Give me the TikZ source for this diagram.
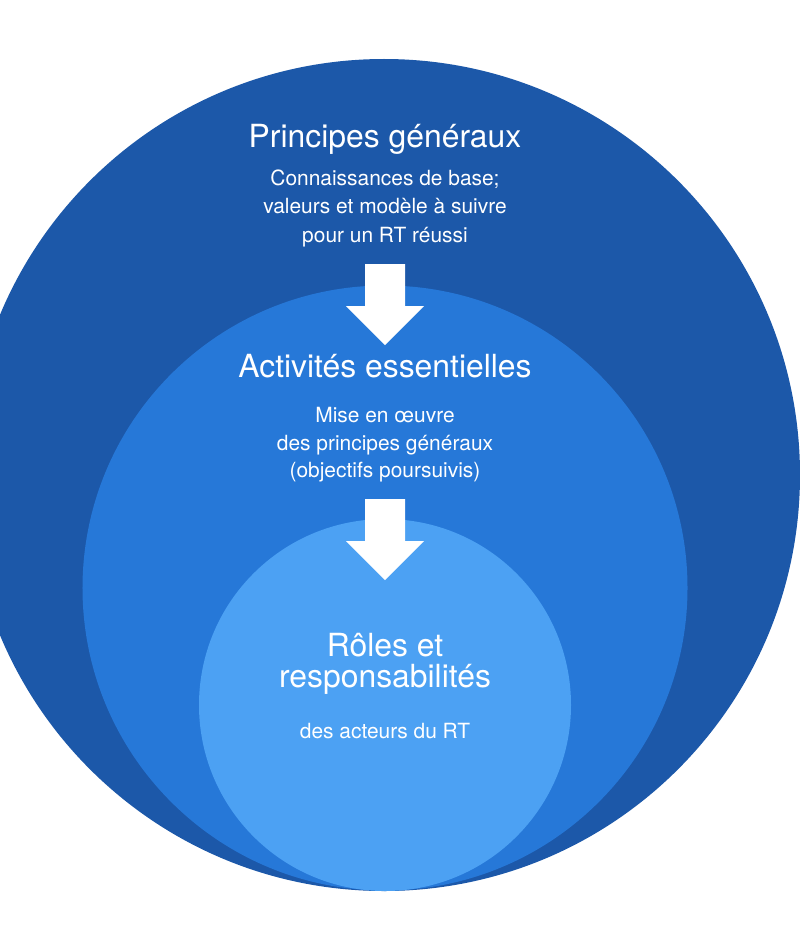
\documentclass[tikz,border=0pt]{standalone}
\usepackage{fontspec}
\setmainfont{TeX Gyre Heros}
\definecolor{cOuter}{RGB}{28,88,169}
\definecolor{cMid}{RGB}{38,120,216}
\definecolor{cIn}{RGB}{76,161,243}
\tikzset{
  disc/.style={circle, draw=none, inner sep=0pt},
  ttl/.style={anchor=base, text=white, inner sep=0pt, font=\fontsize{32}{32}\selectfont},
  sub/.style={anchor=base, text=white, inner sep=0pt, font=\fontsize{21}{24}\selectfont},
  downarrow/.style={fill=white, draw=none}
}
\begin{document}
\begin{tikzpicture}[x=1bp,y=-1bp]
\useasboundingbox (0,0) rectangle (800,945);
\clip (0,0) rectangle (800,945);
\node[disc, fill=cOuter, minimum size=832bp] (outer) at (384,475) {};
\node[disc, fill=cMid, minimum size=605bp] (mid) at (385,588) {};
\node[disc, fill=cIn, minimum size=372bp] (inner) at (385,705) {};
% arrows
\coordinate (a1) at (385,264);
\coordinate (a2) at (385,499);
\fill[downarrow] (a1) ++(-20,0) -- ++(40,0) -- ++(0,42) -- ++(19,0) -- ++(-39,39) -- ++(-39,-39) -- ++(19,0) -- cycle;
\fill[downarrow] (a2) ++(-20,0) -- ++(40,0) -- ++(0,42) -- ++(19,0) -- ++(-39,39) -- ++(-39,-39) -- ++(19,0) -- cycle;
% texts
\node[ttl] (t1) at (385,147) {Principes généraux};
\node[sub] (s11) at (385,185) {Connaissances de base;};
\node[sub] (s12) at (385,213) {valeurs et modèle à suivre};
\node[sub] (s13) at (385,242) {pour un RT réussi};
\node[ttl] (t2) at (385,377) {Activités essentielles};
\node[sub] (s21) at (385,422) {Mise en œuvre};
\node[sub] (s22) at (385,450) {des principes généraux};
\node[sub] (s23) at (385,477) {(objectifs poursuivis)};
\node[ttl] (t31) at (385,656) {Rôles et};
\node[ttl] (t32) at (385,687) {responsabilités};
\node[sub] (s31) at (385,738) {des acteurs du RT};
\end{tikzpicture}
\end{document}
